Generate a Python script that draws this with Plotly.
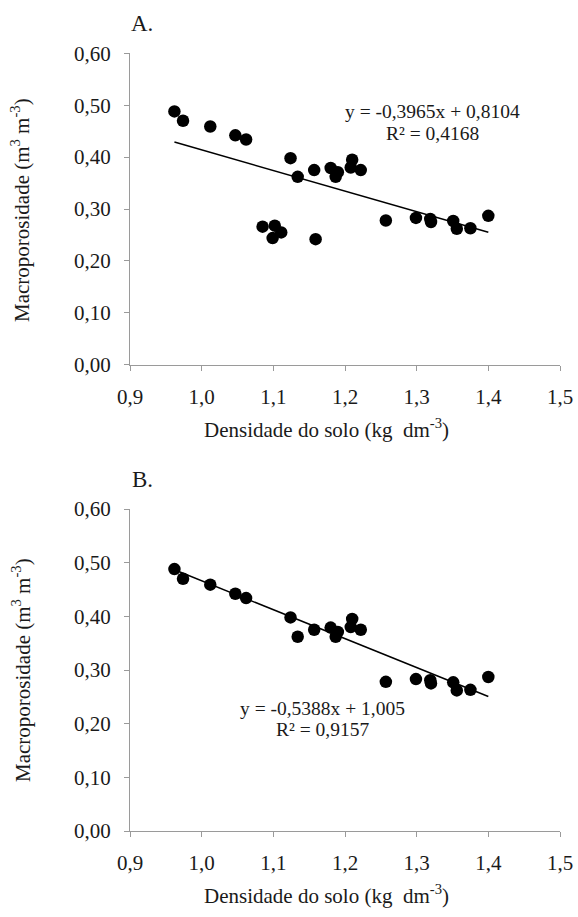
import plotly.graph_objects as go

W, H = 578, 917

# ---- data ----
dens_main = [0.962, 0.974, 1.012, 1.047, 1.062, 1.124, 1.134, 1.157, 1.180, 1.190, 1.187,
             1.210, 1.208, 1.222, 1.257, 1.299, 1.319, 1.320, 1.351, 1.356, 1.375, 1.400]
macro_main = [0.488, 0.470, 0.459, 0.442, 0.434, 0.398, 0.362, 0.375, 0.379, 0.371, 0.362,
              0.395, 0.380, 0.375, 0.278, 0.283, 0.281, 0.275, 0.277, 0.262, 0.263, 0.287]
dens_out = [1.085, 1.102, 1.111, 1.099, 1.159]
macro_out = [0.266, 0.268, 0.255, 0.244, 0.242]

fitA = (-0.3965, 0.8104)
fitB = (-0.5388, 1.005)
eqA = ["y = -0,3965x + 0,8104", "R² = 0,4168"]
eqB = ["y = -0,5388x + 1,005", "R² = 0,9157"]

x_ticks = [0.9, 1.0, 1.1, 1.2, 1.3, 1.4, 1.5]
x_ticktext = ["0,9", "1,0", "1,1", "1,2", "1,3", "1,4", "1,5"]
y_ticks = [0.0, 0.1, 0.2, 0.3, 0.4, 0.5, 0.6]
y_ticktext = ["0,00", "0,10", "0,20", "0,30", "0,40", "0,50", "0,60"]

FONT = "Liberation Serif"
AX = "#9a9a9a"
TXT = "#1a1a1a"

def py(px):
    return 1 - px / H

def pxx(px):
    return px / W

fig = go.Figure()

xA = dens_main + dens_out
yA = macro_main + macro_out
fig.add_trace(go.Scatter(x=xA, y=yA, mode="markers", xaxis="x", yaxis="y",
                         marker=dict(color="black", size=12.5), showlegend=False))
xs = [min(xA), max(xA)]
fig.add_trace(go.Scatter(x=xs, y=[fitA[0] * v + fitA[1] for v in xs], mode="lines",
                         xaxis="x", yaxis="y", line=dict(color="black", width=1.5),
                         showlegend=False))

fig.add_trace(go.Scatter(x=dens_main, y=macro_main, mode="markers", xaxis="x2", yaxis="y2",
                         marker=dict(color="black", size=12.5), showlegend=False))
xs2 = [min(dens_main), max(dens_main)]
fig.add_trace(go.Scatter(x=xs2, y=[fitB[0] * v + fitB[1] for v in xs2], mode="lines",
                         xaxis="x2", yaxis="y2", line=dict(color="black", width=1.5),
                         showlegend=False))

xdom = [pxx(130), pxx(560)]
domA = [py(364.8), py(53.3)]
domB = [py(831), py(509)]

def xaxis(anchor):
    return dict(domain=xdom, range=[0.9, 1.5], anchor=anchor, tickvals=x_ticks,
                ticktext=x_ticktext, showgrid=False, zeroline=False, showline=True,
                linecolor=AX, linewidth=1.3, ticks="outside", tickcolor=AX, ticklen=5,
                tickfont=dict(family=FONT, size=21, color=TXT), automargin=False,
                ticklabelstandoff=8, ticklabeloverflow="allow")

def yaxis(dom, anchor):
    return dict(domain=dom, range=[0, 0.6], anchor=anchor, tickvals=y_ticks,
                ticktext=y_ticktext, showgrid=False, zeroline=False, showline=True,
                linecolor=AX, linewidth=1.3, ticks="outside", tickcolor=AX, ticklen=5,
                tickfont=dict(family=FONT, size=21, color=TXT), automargin=False,
                ticklabelstandoff=9, ticklabeloverflow="allow")

ann = []
def text(x, y, s, size, angle=0):
    ann.append(dict(x=pxx(x), y=py(y), xref="paper", yref="paper", text=s, showarrow=False,
                    textangle=angle, font=dict(family=FONT, size=size, color=TXT),
                    xanchor="center", yanchor="middle"))

text(142, 24, "A.", 23)
text(142, 479, "B.", 23)
ytitle = "Macroporosidade (m<sup>3</sup> m<sup>-3</sup>)"
xtitle = "Densidade do solo (kg  dm<sup>-3</sup>)"
text(21, 210, ytitle, 21, -90)
text(21, 670, ytitle, 21, -90)
text(326, 428, xtitle, 21)
text(326, 894, xtitle, 21)
text(432, 112, eqA[0], 19.5)
text(432, 133, eqA[1], 19.5)
text(322, 708, eqB[0], 19.5)
text(322, 729, eqB[1], 19.5)

fig.update_layout(
    width=W, height=H, margin=dict(l=0, r=0, t=0, b=0),
    paper_bgcolor="white", plot_bgcolor="white",
    xaxis=xaxis("y"), yaxis=yaxis(domA, "x"),
    xaxis2=xaxis("y2"), yaxis2=yaxis(domB, "x2"),
    annotations=ann,
)

fig.write_html("out.html", config={"displayModeBar": False},
               post_script="document.body.style.margin='0';document.body.style.overflow='hidden';")
